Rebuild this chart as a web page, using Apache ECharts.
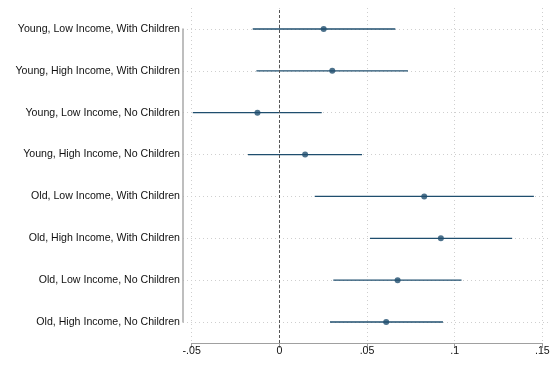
<!DOCTYPE html>
<html>
<head>
<meta charset="utf-8">
<script src="https://cdn.jsdelivr.net/npm/echarts@6/dist/echarts.min.js"></script>
<style>
  html, body { margin: 0; padding: 0; background: #fff; }
  #chart { width: 556px; height: 365px; }
</style>
</head>
<body>
<div id="chart"></div>
<script>
// Coefficient estimates with 95% confidence intervals, by household group
const groups = [
  'Young, Low Income, With Children',
  'Young, High Income, With Children',
  'Young, Low Income, No Children',
  'Young, High Income, No Children',
  'Old, Low Income, With Children',
  'Old, High Income, With Children',
  'Old, Low Income, No Children',
  'Old, High Income, No Children'
];
const estimate = [0.0253, 0.0302, -0.0125, 0.0147, 0.0827, 0.0922, 0.0675, 0.0610];
const ciLow    = [-0.0152, -0.0131, -0.0494, -0.0179, 0.0202, 0.0517, 0.0308, 0.0289];
const ciHigh   = [0.0662, 0.0734, 0.0242, 0.0472, 0.1453, 0.1329, 0.1040, 0.0934];
const xTicks   = [-0.05, 0, 0.05, 0.1, 0.15];

const markColor = '#1f4e6e';
const font = 'Liberation Sans, Arial, Helvetica, sans-serif';

function tickLabel(v) {
  const r = Math.round(v * 100) / 100;
  if (r === 0) return '0';
  return String(r).replace(/^(-?)0\./, '$1.');
}

const chart = echarts.init(document.getElementById('chart'), null, { renderer: 'canvas' });

chart.setOption({
  animation: false,
  backgroundColor: '#ffffff',
  grid: [
    // plotting region: categories sit on its top and bottom edges
    { left: 183, right: 6, top: 29, bottom: 43, containLabel: false },
    // axis region spanning exactly the tick range
    { left: 191.7, right: 13.7, top: 8, bottom: 22, containLabel: false }
  ],
  xAxis: [
    {
      gridIndex: 0, type: 'value', min: -0.055, max: 0.1545,
      show: true,
      axisLine: { show: false }, axisTick: { show: false },
      axisLabel: { show: false }, splitLine: { show: false }
    },
    {
      gridIndex: 1, type: 'value', min: xTicks[0], max: xTicks[xTicks.length - 1],
      interval: 0.05,
      axisLine: { show: true, onZero: false, lineStyle: { color: '#a0a0a0', width: 1 } },
      axisTick: { show: true, length: 5, lineStyle: { color: '#a0a0a0' } },
      axisLabel: {
        color: '#111', fontSize: 10.6, fontFamily: font, margin: 3,
        formatter: tickLabel, showMinLabel: true, showMaxLabel: true
      },
      splitLine: {
        show: true, showMinLine: true, showMaxLine: true,
        lineStyle: { color: '#cfcfcf', type: [1, 3], width: 1 }
      }
    }
  ],
  yAxis: [
    {
      gridIndex: 0, type: 'category', data: groups, inverse: true,
      boundaryGap: false,
      axisLine: { show: true, onZero: false, lineStyle: { color: '#a8a8a8', width: 1.5 } },
      axisTick: { show: false },
      axisLabel: { color: '#111', fontSize: 10.6, fontFamily: font, margin: 3 },
      splitLine: { show: true, lineStyle: { color: '#cfcfcf', type: [1, 3], width: 1 } }
    },
    {
      gridIndex: 1, type: 'value', min: 0, max: 1, show: false
    }
  ],
  series: [
    {
      // reference line at zero
      type: 'line', xAxisIndex: 1, yAxisIndex: 1, data: [],
      markLine: {
        silent: true, symbol: 'none', label: { show: false },
        lineStyle: { color: '#555', type: [3, 2], width: 1 },
        data: [{ xAxis: 0 }]
      }
    },
    {
      // confidence intervals
      type: 'custom', xAxisIndex: 0, yAxisIndex: 0,
      data: groups.map((g, i) => [i, ciLow[i], ciHigh[i]]),
      encode: { x: [1, 2], y: 0 },
      renderItem: function (params, api) {
        const a = api.coord([api.value(1), api.value(0)]);
        const b = api.coord([api.value(2), api.value(0)]);
        return {
          type: 'line',
          shape: { x1: a[0], y1: a[1], x2: b[0], y2: b[1] },
          style: { stroke: markColor, lineWidth: 1.3 }
        };
      },
      z: 3
    },
    {
      // point estimates
      type: 'scatter', xAxisIndex: 0, yAxisIndex: 0,
      data: groups.map((g, i) => [estimate[i], i]),
      symbol: 'circle', symbolSize: 6,
      itemStyle: { color: markColor },
      z: 4
    }
  ]
});
</script>
</body>
</html>
